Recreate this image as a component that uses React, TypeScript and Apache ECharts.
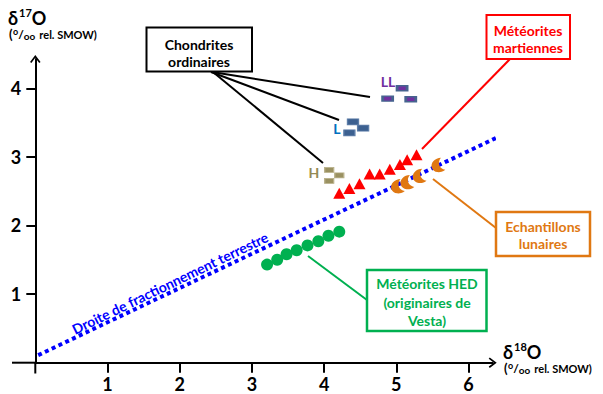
import React, { useEffect, useRef } from "react";
import * as echarts from "echarts";

// ---- data (δ18O, δ17O in ‰ rel. SMOW) ----
const xTicks = [1, 2, 3, 4, 5, 6];
const yTicks = [1, 2, 3, 4];
const terrestrialLine = [
  [0.04, 0.11],
  [6.39, 3.28],
];
const martian = [
  [4.21, 2.47], [4.35, 2.54], [4.49, 2.61], [4.63, 2.75], [4.77, 2.75],
  [4.91, 2.82], [5.05, 2.89], [5.15, 2.96], [5.28, 3.03],
];
const lunar = [
  [5.01, 2.56], [5.14, 2.62], [5.31, 2.71], [5.57, 2.87],
];
const hed = [
  [3.21, 1.43], [3.35, 1.5], [3.48, 1.58], [3.62, 1.64],
  [3.77, 1.71], [3.92, 1.77], [4.06, 1.85], [4.21, 1.91],
];
const chondriteLL = [[5.08, 4.0], [4.88, 3.85], [5.2, 3.84]];
const chondriteL = [[4.4, 3.51], [4.54, 3.42], [4.35, 3.35]];
const chondriteH = [[4.07, 2.81], [4.21, 2.73], [4.07, 2.65]];

const FONT = "Lato, 'Noto Sans', sans-serif";
const RED = "#FF0000";
const GREEN = "#00B050";
const ORANGE = "#E07812";
const BLUE = "#0000FF";
const ARROW = "path://M5 0 L10 6.6 L8.7 7.6 L5 2.7 L1.3 7.6 L0 6.6 Z";
const CRESCENT = "path://M72 6 A48 48 0 1 0 72 94 A54 54 0 0 1 72 6 Z";

const txt = (
  text: string,
  x: number,
  y: number,
  size: number,
  color: string,
  align: string = "center",
  rotation: number = 0
) => ({
  type: "text",
  x,
  y,
  rotation,
  z: 100,
  style: {
    text,
    fill: color,
    font: `bold ${size}px ${FONT}`,
    align,
    verticalAlign: "middle",
  },
});

const tok = (size: number, lh: number, va: string, extra: any = {}) => ({
  fontSize: size,
  fontWeight: "bold",
  fontFamily: FONT,
  fill: "#000",
  lineHeight: lh,
  verticalAlign: va,
  ...extra,
});

// δ^nO over (‰ rel. SMOW), as one two-line rich text; (x, top) = top-left
const axisTitle = (n: string, x: number, top: number) => ({
  type: "text",
  x,
  y: top,
  z: 100,
  style: {
    text: `{d|δ}{s|${n}}{o|O}\n{p|(}{c|o}{sl|/}{oo|oo}{r|rel. SMOW)}`,
    align: "left",
    verticalAlign: "top",
    rich: {
      d: tok(18, 20, "bottom"),
      s: tok(11, 11, "top", { padding: [0, 0, 0, 1] }),
      o: tok(18, 20, "bottom"),
      p: tok(13, 14, "middle", { padding: [0, 0, 0, 1] }),
      c: tok(9, 9, "top", { padding: [0, 0, 0, 0.5] }),
      sl: tok(12, 14, "middle"),
      oo: tok(10, 10, "bottom"),
      r: tok(11, 14, "middle", { padding: [0, 0, 0, 4] }),
    },
  },
});

const box = (x: number, y: number, w: number, h: number, color: string, lw = 2) => ({
  type: "rect",
  z: 90,
  shape: { x, y, width: w, height: h },
  style: { fill: "#fff", stroke: color, lineWidth: lw },
});

const seg = (x1: number, y1: number, x2: number, y2: number, color: string, lw = 2) => ({
  type: "line",
  z: 80,
  shape: { x1, y1, x2, y2 },
  style: { stroke: color, lineWidth: lw },
});

export default function App() {
  const ref = useRef<HTMLDivElement>(null);
  useEffect(() => {
    if (!ref.current) return;
    const chart = echarts.init(ref.current, undefined, { renderer: "svg" });
    const axisLine = {
      onZero: false,
      symbol: ["none", ARROW],
      symbolSize: [11, 8],
      lineStyle: { color: "#000", width: 2 },
    };
    const labelStyle = {
      fontSize: 18,
      fontWeight: "bold",
      fontFamily: FONT,
      color: "#000",
    };
    chart.setOption({
      animation: false,
      backgroundColor: "#fff",
      grid: {
        left: 35.3,
        top: 59,
        width: 457.4,
        height: 303.7,
        containLabel: false,
        outerBoundsMode: "none",
      },
      xAxis: {
        type: "value",
        min: 0,
        max: 6.335,
        splitLine: { show: false },
        axisLine,
        axisTick: {
          show: true,
          customValues: xTicks,
          length: 10,
          lineStyle: { color: "#000", width: 2 },
        },
        axisLabel: { ...labelStyle, margin: 12, customValues: xTicks },
      },
      yAxis: {
        type: "value",
        min: 0,
        max: 4.427,
        splitLine: { show: false },
        axisLine,
        axisTick: {
          show: true,
          customValues: yTicks,
          length: 9,
          lineStyle: { color: "#000", width: 2 },
        },
        axisLabel: { ...labelStyle, margin: 14, customValues: yTicks },
      },
      series: [
        {
          name: "Droite de fractionnement terrestre",
          type: "line",
          data: terrestrialLine,
          showSymbol: false,
          symbol: "none",
          clip: false,
          z: 2,
          lineStyle: { color: BLUE, width: 4, type: [4, 3.5], cap: "butt" },
        },
        {
          name: "HED",
          type: "scatter",
          data: hed,
          symbol: "circle",
          symbolSize: 12,
          z: 3,
          itemStyle: { color: GREEN, opacity: 1 },
        },
        {
          name: "Martiennes",
          type: "scatter",
          data: martian,
          symbol: "triangle",
          symbolSize: [12, 11],
          z: 3,
          itemStyle: { color: RED, opacity: 1 },
        },
        {
          name: "Lunaires",
          type: "scatter",
          data: lunar,
          symbol: CRESCENT,
          symbolSize: [12, 14],
          symbolRotate: 20,
          z: 3,
          itemStyle: { color: ORANGE, opacity: 1 },
        },
        {
          name: "LL",
          type: "scatter",
          data: chondriteLL,
          symbol: "rect",
          symbolSize: [10, 5],
          z: 3,
          itemStyle: { color: "#7030A0", borderColor: "#46648F", borderWidth: 2, opacity: 1 },
        },
        {
          name: "L",
          type: "scatter",
          data: chondriteL,
          symbol: "rect",
          symbolSize: [11, 6],
          z: 3,
          itemStyle: { color: "#3C6090", borderColor: "#5C7DA8", borderWidth: 1, opacity: 1 },
        },
        {
          name: "H",
          type: "scatter",
          data: chondriteH,
          symbol: "rect",
          symbolSize: [9, 5],
          z: 3,
          itemStyle: { color: "#9A9161", borderColor: "#B9B18B", borderWidth: 1, opacity: 1 },
        },
      ],
      graphic: [
        // axis extensions past the origin
        seg(12, 362.7, 35.3, 362.7, "#000"),
        seg(35.3, 362.7, 35.3, 373.5, "#000"),

        // axis titles
        axisTitle("17", 8, 7),
        axisTitle("18", 503, 341),

        // terrestrial line label
        txt("Droite de fractionnement terrestre", 170, 283, 14, BLUE, "center", 0.45),

        // chondrite group labels
        txt("LL", 388, 81, 14, "#7030A0"),
        txt("L", 337, 128, 14, "#0070C0"),
        txt("H", 314, 172, 14, "#948A54"),

        // Chondrites ordinaires
        seg(212, 72, 370, 97, "#000"),
        seg(211, 72, 339, 120, "#000"),
        seg(213, 72, 323, 163, "#000"),
        box(146.5, 27.5, 105.5, 44, "#000"),
        txt("Chondrites", 199, 44, 14, "#000"),
        txt("ordinaires", 199, 61, 14, "#000"),

        // Météorites martiennes
        seg(510, 59, 422, 149, RED),
        box(486.5, 15, 83.5, 44, RED),
        txt("Météorites", 528, 30, 14, RED),
        txt("martiennes", 528, 47, 14, RED),

        // HED
        seg(308, 256, 367, 300, GREEN),
        box(367, 270, 119.5, 61, GREEN, 2.5),
        txt("Météorites HED", 427, 283, 14, GREEN),
        txt("(originaires de", 427, 302, 14, GREEN),
        txt("Vesta)", 427, 320, 14, GREEN),

        // Lunar
        seg(433, 179, 496, 228, ORANGE),
        box(496, 212, 94, 44, ORANGE, 2.5),
        txt("Echantillons", 543, 226, 14, ORANGE),
        txt("lunaires", 543, 243, 14, ORANGE),
      ],
    });
    return () => chart.dispose();
  }, []);
  return (
    <div
      ref={ref}
      style={{ position: "fixed", left: 0, top: 0, width: 603, height: 394, background: "#fff" }}
    />
  );
}
